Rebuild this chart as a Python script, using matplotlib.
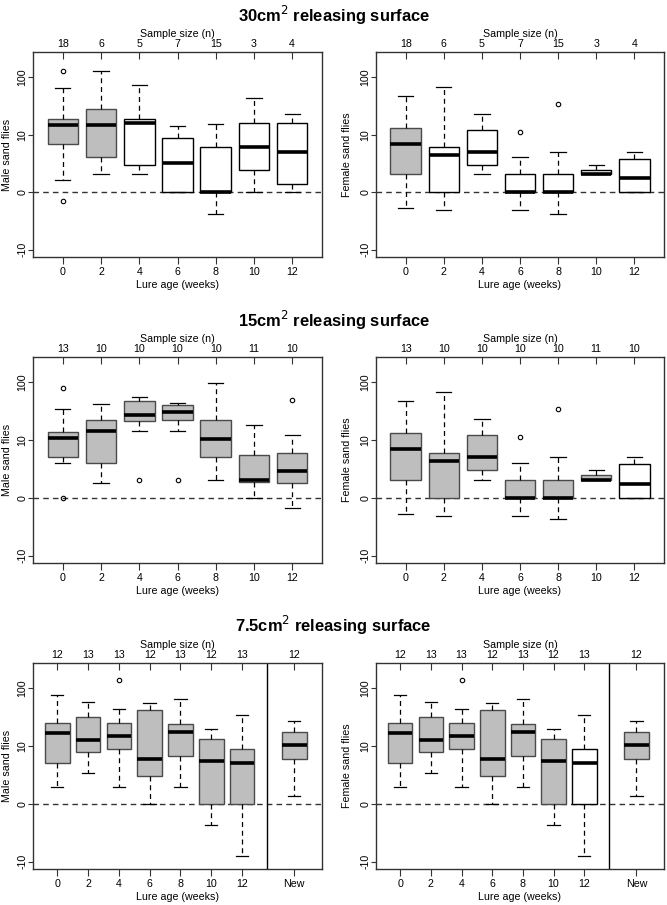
import matplotlib
matplotlib.use("Agg")
import matplotlib.pyplot as plt

plt.rcParams['font.family'] = ['Liberation Sans', 'DejaVu Sans']

# ---- Data (values in axis units: 0 -> "0", 1 -> "10", 2 -> "100", -1 -> "-10") ----
ages = ["0", "2", "4", "6", "8", "10", "12"]
ages_new = ["0", "2", "4", "6", "8", "10", "12", "New"]
yticks = [-1, 0, 1, 2]
ytick_labels = ["-10", "0", "10", "100"]

titles = ["30cm$^2$ releasing surface", "15cm$^2$ releasing surface", "7.5cm$^2$ releasing surface"]

n_30 = [18, 6, 5, 7, 15, 3, 4]
n_15 = [13, 10, 10, 10, 10, 11, 10]
n_75 = [12, 13, 13, 12, 13, 12, 13, 12]

# 30cm2 male
m30_whislo = [0.22, 0.31, 0.31, 0.0, -0.37, 0.0, 0.0]
m30_q1 = [0.84, 0.61, 0.48, 0.0, 0.0, 0.39, 0.15]
m30_med = [1.16, 1.16, 1.21, 0.51, 0.0, 0.79, 0.69]
m30_q3 = [1.28, 1.45, 1.28, 0.95, 0.79, 1.20, 1.20]
m30_whishi = [1.81, 2.10, 1.87, 1.15, 1.19, 1.64, 1.35]
m30_fliers = [[2.10, -0.145], [], [], [], [], [], []]
m30_gray = [True, True, False, False, False, False, False]

# 30cm2 female
f30_whislo = [-0.27, -0.31, 0.31, -0.31, -0.37, 0.31, 0.0]
f30_q1 = [0.31, 0.0, 0.48, 0.0, 0.0, 0.31, 0.0]
f30_med = [0.84, 0.64, 0.70, 0.0, 0.0, 0.31, 0.24]
f30_q3 = [1.12, 0.78, 1.08, 0.31, 0.31, 0.39, 0.58]
f30_whishi = [1.67, 1.83, 1.36, 0.61, 0.70, 0.48, 0.70]
f30_fliers = [[], [], [], [1.05], [1.53], [], []]
f30_gray = [True, False, False, False, False, False, False]

# 15cm2 male
m15_whislo = [0.61, 0.25, 1.16, 1.16, 0.31, 0.0, -0.17]
m15_q1 = [0.71, 0.61, 1.33, 1.35, 0.71, 0.28, 0.25]
m15_med = [1.03, 1.16, 1.44, 1.49, 1.02, 0.31, 0.46]
m15_q3 = [1.14, 1.35, 1.68, 1.61, 1.35, 0.74, 0.78]
m15_whishi = [1.53, 1.62, 1.75, 1.64, 1.98, 1.26, 1.08]
m15_fliers = [[1.90, 0.0], [], [0.31], [0.31], [], [], [1.69]]
m15_gray = [True, True, True, True, True, True, True]

# 15cm2 female
f15_whislo = [-0.27, -0.31, 0.31, -0.31, -0.37, 0.31, 0.0]
f15_q1 = [0.31, 0.0, 0.48, 0.0, 0.0, 0.31, 0.0]
f15_med = [0.84, 0.64, 0.70, 0.0, 0.0, 0.31, 0.24]
f15_q3 = [1.12, 0.78, 1.08, 0.31, 0.31, 0.39, 0.58]
f15_whishi = [1.67, 1.83, 1.36, 0.61, 0.70, 0.48, 0.70]
f15_fliers = [[], [], [], [1.05], [1.53], [], []]
f15_gray = [True, True, True, True, True, True, False]

# 7.5cm2 male
m75_whislo = [0.29, 0.53, 0.29, 0.0, 0.29, -0.37, -0.90, 0.145]
m75_q1 = [0.70, 0.90, 0.95, 0.48, 0.82, 0.0, 0.0, 0.77]
m75_med = [1.22, 1.11, 1.18, 0.78, 1.25, 0.74, 0.70, 1.02]
m75_q3 = [1.40, 1.51, 1.39, 1.63, 1.38, 1.13, 0.95, 1.25]
m75_whishi = [1.88, 1.76, 1.64, 1.74, 1.82, 1.30, 1.53, 1.43]
m75_fliers = [[], [], [2.14], [], [], [], [], []]
m75_gray = [True, True, True, True, True, True, True, True]

# 7.5cm2 female
f75_whislo = [0.29, 0.53, 0.29, 0.0, 0.29, -0.37, -0.90, 0.145]
f75_q1 = [0.70, 0.90, 0.95, 0.48, 0.82, 0.0, 0.0, 0.77]
f75_med = [1.22, 1.11, 1.18, 0.78, 1.25, 0.74, 0.70, 1.02]
f75_q3 = [1.40, 1.51, 1.39, 1.63, 1.38, 1.13, 0.95, 1.25]
f75_whishi = [1.88, 1.76, 1.64, 1.74, 1.82, 1.30, 1.53, 1.43]
f75_fliers = [[], [], [2.14], [], [], [], [], []]
f75_gray = [True, True, True, True, True, True, False, True]

panels = [
    ("Male sand flies", n_30, m30_whislo, m30_q1, m30_med, m30_q3, m30_whishi, m30_fliers, m30_gray),
    ("Female sand flies", n_30, f30_whislo, f30_q1, f30_med, f30_q3, f30_whishi, f30_fliers, f30_gray),
    ("Male sand flies", n_15, m15_whislo, m15_q1, m15_med, m15_q3, m15_whishi, m15_fliers, m15_gray),
    ("Female sand flies", n_15, f15_whislo, f15_q1, f15_med, f15_q3, f15_whishi, f15_fliers, f15_gray),
    ("Male sand flies", n_75, m75_whislo, m75_q1, m75_med, m75_q3, m75_whishi, m75_fliers, m75_gray),
    ("Female sand flies", n_75, f75_whislo, f75_q1, f75_med, f75_q3, f75_whishi, f75_fliers, f75_gray),
]

W, H = 667, 905
fig = plt.figure(figsize=(W / 100, H / 100), dpi=100)

rows_y = [(52, 257), (357, 563), (663, 869)]
cols_x = [(33, 322), (376, 664)]
ylabel_x = [-0.073, -0.085]
title_y = [15, 320, 625]

FRAME = "#333333"
GRAYFILL = "#BEBEBE"
GRAYEDGE = "#4a4a4a"
FS = 7.7

for i, (ylab, ns, wlo, q1, med, q3, whi, fl, gray) in enumerate(panels):
    r, c = divmod(i, 2)
    x0, x1 = cols_x[c]
    y0, y1 = rows_y[r]
    ax = fig.add_axes([x0 / W, 1 - y1 / H, (x1 - x0) / W, (y1 - y0) / H])
    nbox = len(med)
    if nbox == 8:
        pos = [1, 2, 3, 4, 5, 6, 7, 8.7]
        labels = ages_new
        xlim = (0.21, 9.6)
    else:
        pos = [1, 2, 3, 4, 5, 6, 7]
        labels = ages
        xlim = (0.22, 7.78)

    stats = []
    for k in range(nbox):
        stats.append(dict(med=med[k], q1=q1[k], q3=q3[k], whislo=wlo[k], whishi=whi[k],
                          fliers=fl[k]))
    ax.axhline(0, color="#333333", lw=1.0, ls=(0, (4, 3)), zorder=0.5)
    bp = ax.bxp(stats, positions=pos, widths=0.8, patch_artist=True, showfliers=True,
                boxprops=dict(linewidth=1.0),
                medianprops=dict(color="black", linewidth=2.6, solid_capstyle="butt"),
                whiskerprops=dict(color="black", linewidth=0.9, linestyle=(0, (4, 3))),
                capprops=dict(color="black", linewidth=0.9),
                flierprops=dict(marker="o", markersize=3.2, markerfacecolor="none",
                                markeredgecolor="black", markeredgewidth=0.8),
                capwidths=0.4)
    for k, patch in enumerate(bp["boxes"]):
        if gray[k]:
            patch.set_facecolor(GRAYFILL)
            patch.set_edgecolor(GRAYEDGE)
        else:
            patch.set_facecolor("white")
            patch.set_edgecolor("black")
    if nbox == 8:
        ax.axvline(7.8, color="black", lw=1.0)

    ax.set_xlim(*xlim)
    ax.set_ylim(-1.125, 2.435)
    ax.set_xticks(pos)
    ax.set_xticklabels(labels, fontsize=FS)
    ax.set_yticks(yticks)
    ax.set_yticklabels(ytick_labels, fontsize=FS, rotation=90, va="center")
    ax.tick_params(axis="x", direction="out", length=5, width=0.8, color=FRAME, pad=2.5)
    ax.tick_params(axis="y", direction="out", length=3.8, width=0.8, color=FRAME, pad=0.3)
    ax.set_xlabel("Lure age (weeks)", fontsize=FS, labelpad=1.5)
    ax.set_ylabel(ylab, fontsize=FS)
    ax.yaxis.set_label_coords(ylabel_x[c], 0.5)
    for s in ax.spines.values():
        s.set_color(FRAME)
        s.set_linewidth(1.0)

    sec = ax.secondary_xaxis("top")
    sec.set_xticks(pos)
    sec.set_xticklabels([str(v) for v in ns], fontsize=FS)
    sec.tick_params(direction="in", length=5, width=0.8, color=FRAME, pad=2)
    sec.set_xlabel("Sample size (n)", fontsize=FS, labelpad=1.5)
    sec.spines["top"].set_visible(False)

for r in range(3):
    fig.text(0.5, 1 - title_y[r] / H, titles[r], ha="center", va="center",
             fontsize=11.9, fontweight="bold")

fig.savefig("out.png", dpi=100)
